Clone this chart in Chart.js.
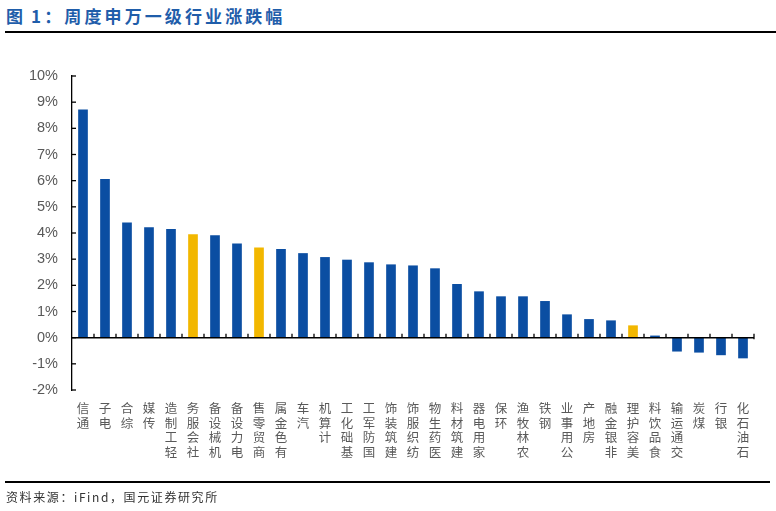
<!DOCTYPE html>
<html>
<head>
<meta charset="utf-8">
<script src="https://cdn.jsdelivr.net/npm/chart.js@4.4.1/dist/chart.umd.min.js"></script>
<style>
  html, body { margin: 0; padding: 0; background: #fff; }
  body { width: 776px; height: 511px; position: relative; overflow: hidden; }
  #title { position: absolute; left: 6px; top: 3px; font-family: "Noto Sans CJK SC", sans-serif; font-weight: bold; font-size: 17px; color: #1F5DAA; letter-spacing: 3.1px; white-space: nowrap; }
  #title .n { margin-left: 5px; }
  #topline { position: absolute; left: 5px; top: 30.5px; width: 771px; height: 2.5px; background: #000; }
  #botline { position: absolute; left: 5px; top: 480.5px; width: 765px; height: 2.5px; background: #000; }
  #source { position: absolute; left: 6px; top: 488px; font-family: "Noto Sans CJK SC", sans-serif; font-size: 12px; color: #333; letter-spacing: 1.6px; white-space: nowrap; }
  #wrap { position: absolute; left: 0; top: 0; width: 776px; height: 511px; }
</style>
</head>
<body>
<div id="title">图<span class="n">1：</span>周度申万一级行业涨跌幅</div>
<div id="topline"></div>
<div id="wrap"><canvas id="c"></canvas></div>
<div id="botline"></div>
<div id="source">资料来源：iFind，国元证券研究所</div>
<script>
const categories = ['通信','电子','综合','传媒','轻工制造','社会服务','机械设备','电力设备','商贸零售','有色金属','汽车','计算机','基础化工','国防军工','建筑装饰','纺织服饰','医药生物','建筑材料','家用电器','环保','农林牧渔','钢铁','公用事业','房地产','非银金融','美容护理','食品饮料','交通运输','煤炭','银行','石油石化'];
const values = [8.72, 6.06, 4.40, 4.22, 4.15, 3.95, 3.91, 3.60, 3.45, 3.39, 3.23, 3.08, 2.98, 2.88, 2.80, 2.76, 2.65, 2.05, 1.77, 1.58, 1.58, 1.40, 0.89, 0.71, 0.66, 0.47, 0.08, -0.53, -0.57, -0.67, -0.79];
const highlighted = ['社会服务','商贸零售','美容护理'];
const yMin = -2, yMax = 10, yStep = 1;

const BLUE = '#0B4EA2', YELLOW = '#F2B700';

const axisDecor = {
  id: 'axisDecor',
  afterDatasetsDraw(chart) {
    const {ctx, chartArea, scales: {x, y}} = chart;
    ctx.save();
    ctx.strokeStyle = '#000';
    // zero line
    const y0 = y.getPixelForValue(0);
    ctx.lineWidth = 1.5;
    ctx.beginPath();
    ctx.moveTo(chartArea.left, y0);
    ctx.lineTo(chartArea.right, y0);
    ctx.stroke();
    // x category boundary ticks
    ctx.lineWidth = 1.3;
    const n = categories.length;
    for (let i = 1; i <= n; i++) {
      let bx;
      if (i === n) bx = chartArea.right;
      else bx = (x.getPixelForTick(i - 1) + x.getPixelForTick(i)) / 2;
      ctx.beginPath();
      ctx.moveTo(bx, y0 - 4);
      ctx.lineTo(bx, i === n ? y0 + 1.5 : y0);
      ctx.stroke();
    }
    // y ticks pointing inward
    y.ticks.forEach(t => {
      const py = y.getPixelForValue(t.value);
      ctx.beginPath();
      ctx.moveTo(chartArea.left, py);
      ctx.lineTo(chartArea.left + 4, py);
      ctx.stroke();
    });
    ctx.restore();
  }
};

new Chart(document.getElementById('c'), {
  type: 'bar',
  data: {
    labels: categories.map(c => [...c].reverse()),
    datasets: [{
      data: values,
      backgroundColor: categories.map(c => highlighted.includes(c) ? YELLOW : BLUE),
      barPercentage: 0.88,
      categoryPercentage: 0.5
    }]
  },
  options: {
    responsive: true,
    maintainAspectRatio: false,
    animation: false,
    events: [],
    layout: { padding: { left: 0, top: 76, right: 22, bottom: 0 } },
    plugins: { legend: { display: false }, tooltip: { enabled: false } },
    scales: {
      x: {
        grid: { display: false, drawTicks: false },
        border: { display: false },
        ticks: {
          autoSkip: false, maxRotation: 0, minRotation: 0, padding: 11,
          color: '#595959',
          font: { family: '"Noto Sans CJK SC", sans-serif', size: 12.5, lineHeight: 1.16 }
        },
        afterFit(s) { s.height = 121; }
      },
      y: {
        min: yMin, max: yMax,
        grid: { display: false, drawTicks: false },
        border: { display: true, color: '#000', width: 1.3 },
        ticks: {
          stepSize: yStep, padding: 14,
          color: '#595959',
          font: { family: '"Liberation Sans", Arial, sans-serif', size: 14.5 },
          callback: v => v + '%'
        },
        afterFit(s) { s.width = 72; }
      }
    }
  },
  plugins: [axisDecor]
});
</script>
</body>
</html>
